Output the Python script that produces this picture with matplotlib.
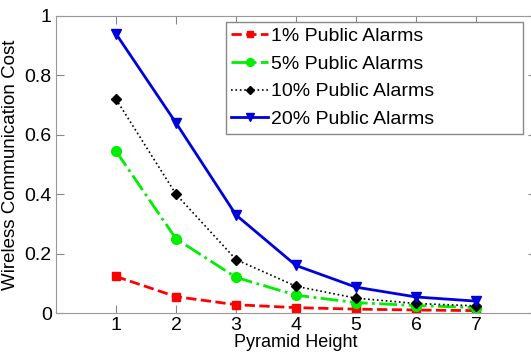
import matplotlib
matplotlib.use('Agg')
import matplotlib.pyplot as plt

plt.rcParams['font.family'] = ['Liberation Sans', 'DejaVu Sans']

heights = [1, 2, 3, 4, 5, 6, 7]
labels = ['1% Public Alarms', '5% Public Alarms', '10% Public Alarms', '20% Public Alarms']
cost_1 = [0.123, 0.055, 0.028, 0.018, 0.013, 0.010, 0.008]
cost_5 = [0.545, 0.25, 0.12, 0.06, 0.035, 0.025, 0.018]
cost_10 = [0.72, 0.40, 0.18, 0.09, 0.05, 0.032, 0.024]
cost_20 = [0.94, 0.64, 0.33, 0.16, 0.087, 0.054, 0.04]
yticks = [0, 0.2, 0.4, 0.6, 0.8, 1]
ytick_labels = ['0', '0.2', '0.4', '0.6', '0.8', '1']

fig = plt.figure(figsize=(5.31, 3.54), dpi=100)
ax = fig.add_axes([56/531, 41/354, 480/531, 297/354])

ax.plot(heights, cost_1, color='#ff0000', ls='--', lw=2, marker='s', ms=6, label=labels[0])
ax.plot(heights, cost_5, color='#00ee00', ls='-.', lw=2, marker='o', ms=7, label=labels[1])
ax.plot(heights, cost_10, color='black', ls=':', lw=1.2, marker='D', ms=5, label=labels[2])
ax.plot(heights, cost_20, color='#0000dd', ls='-', lw=2, marker='v', ms=7, label=labels[3])

ax.set_xlim(0, 8)
ax.set_ylim(0, 1)
ax.set_xticks(heights)
ax.set_yticks(yticks)
ax.set_yticklabels(ytick_labels)
ax.tick_params(direction='in', labelsize=14, length=6, color='#888888',
               top=True, right=True, pad=3)
for s in ax.spines.values():
    s.set_color('#999999')

ax.set_xlabel('Pyramid Height', fontsize=13, labelpad=0)
ax.set_ylabel('Wireless Communication Cost', fontsize=13.5, labelpad=4)

# matlab-style legend box: wider than its contents
leg = ax.legend(loc='upper left', bbox_to_anchor=(0.354, 0.609, 0.619, 0.371),
                mode='expand', fontsize=14, markerscale=0.8,
                fancybox=False, edgecolor='#888888', framealpha=1,
                handlelength=1.9, handletextpad=0.15, labelspacing=0.52,
                borderpad=0.28, borderaxespad=0)
leg.get_frame().set_linewidth(1)

fig.savefig('out.png', dpi=100)
